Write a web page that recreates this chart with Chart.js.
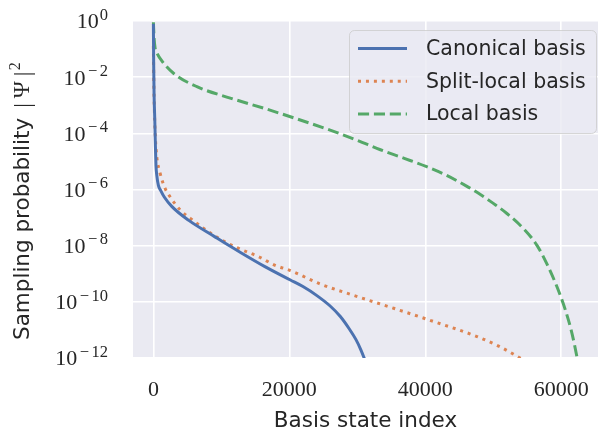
<!DOCTYPE html>
<html>
<head>
<meta charset="utf-8">
<script src="https://cdn.jsdelivr.net/npm/chart.js@4.4.1/dist/chart.umd.min.js"></script>
<style>
  html, body { margin: 0; padding: 0; background: #ffffff; }
  #wrap { width: 603px; height: 432px; }
</style>
</head>
<body>
<div id="wrap"><canvas id="c" width="603" height="432"></canvas></div>
<script>
// ---- data ----
const seriesNames = ["Canonical basis", "Split-local basis", "Local basis"];

const canonicalIndex = [0, 40, 100, 200, 280, 380, 500, 735, 1100, 1600, 2700, 5150, 9000, 11000, 13000, 16400, 20150, 22000, 24000, 26000, 27500, 28800, 29800, 30500, 31000, 31200];
const canonicalProb  = [7.9e-1, 3.2e-2, 2.5e-3, 3.2e-4, 5.0e-5, 7.1e-6, 3.2e-6, 1.4e-6, 8.9e-7, 5.4e-7, 2.5e-7, 8.1e-8, 2.1e-8, 1.05e-8, 5.4e-9, 1.8e-9, 6.0e-10, 3.5e-10, 1.7e-10, 7.1e-11, 3.0e-11, 1.1e-11, 4.5e-12, 2.0e-12, 1.0e-12, 7.1e-13];

const splitIndex = [0, 50, 150, 300, 490, 985, 1720, 2450, 3920, 5880, 8820, 12000, 15440, 17900, 20150, 24560, 29450, 35340, 40700, 47600, 51000, 54300];
const splitProb  = [1.3e-1, 1.0e-2, 6.3e-4, 6.3e-5, 1.5e-5, 3.8e-6, 1.1e-6, 5.5e-7, 1.9e-7, 7.8e-8, 2.4e-8, 9.1e-9, 4.1e-9, 2.0e-9, 1.3e-9, 4.3e-10, 1.7e-10, 5.9e-11, 2.2e-11, 5.8e-12, 2.5e-12, 8.9e-13];

const localIndex = [0, 100, 250, 540, 1270, 3000, 6400, 11300, 16200, 20150, 26000, 30000, 33400, 37000, 40200, 43000, 46000, 48100, 50000, 52000, 54460, 56400, 57900, 59350, 60600, 61570, 62300, 62450];
const localProb  = [9.0e-1, 2.5e-1, 1.1e-1, 7.1e-2, 3.7e-2, 1.35e-2, 4.6e-3, 1.8e-3, 7.9e-4, 3.9e-4, 1.3e-4, 5.6e-5, 2.6e-5, 1.26e-5, 6.5e-6, 3.3e-6, 1.35e-6, 6.6e-7, 3.2e-7, 1.4e-7, 4.0e-8, 1.05e-8, 2.2e-9, 3.5e-10, 5.1e-11, 7.6e-12, 1.1e-12, 7.1e-13];

const xTickValues = [0, 20000, 40000, 60000];
const xTickLabels = ["0", "20000", "40000", "60000"];
const yTickValues = [1e-12, 1e-10, 1e-8, 1e-6, 1e-4, 1e-2, 1e0];
const yTickBase = "10";
const yTickExponents = ["\u221212", "\u221210", "\u22128", "\u22126", "\u22124", "\u22122", "0"];

const xTitle = "Basis state index";
const yTitleWords = "Sampling probability";
const yTitleSymbol = "\u03A8";   // |Ψ|^2
const yTitlePower = "2";

// ---- styling ----
const colors = ["#4C72B0", "#DD8452", "#55A868"];
const LW = 3;
const dashes = [[], [LW, LW * 1.65], [LW * 3.7, LW * 1.6]];
const textColor = "#262626";
const sansFont = "'DejaVu Sans', 'Open Sans', sans-serif";
const serifFont = "'Liberation Serif', 'DejaVu Serif', serif";

function toPoints(xs, ys) { return xs.map((x, i) => ({ x: x, y: ys[i] })); }

const seriesData = [
  toPoints(canonicalIndex, canonicalProb),
  toPoints(splitIndex, splitProb),
  toPoints(localIndex, localProb)
];

const bgPlugin = {
  id: 'axesBg',
  beforeDraw(chart) {
    const { ctx, chartArea: a } = chart;
    ctx.save();
    ctx.fillStyle = '#EAEAF2';
    ctx.fillRect(a.left, a.top, a.right - a.left, a.bottom - a.top);
    ctx.restore();
  }
};

// y tick labels drawn as 10 with a raised exponent, positioned by the y scale
const yLabelPlugin = {
  id: 'yPowerLabels',
  afterDraw(chart) {
    const ctx = chart.ctx;
    const ys = chart.scales.y;
    const rightEdge = ys.right - 25;
    const baseFont = "22px " + serifFont;
    const expFont = "16.5px " + serifFont;
    ctx.save();
    ctx.fillStyle = textColor;
    ctx.textAlign = 'left';
    ctx.textBaseline = 'alphabetic';
    yTickValues.forEach((v, i) => {
      const py = ys.getPixelForValue(v);
      const ex = yTickExponents[i];
      const neg = ex.charAt(0) === '\u2212';
      const digits = neg ? ex.slice(1) : ex;
      ctx.font = expFont;
      const wMinus = neg ? ctx.measureText('\u2212').width + 4 : 0;
      const wDig = ctx.measureText(digits).width;
      ctx.font = baseFont;
      const wBase = ctx.measureText(yTickBase).width;
      const total = wBase + 1 + wMinus + wDig;
      const x0 = rightEdge - total;
      const baseY = py + 7.4;
      ctx.fillText(yTickBase, x0, baseY);
      ctx.font = expFont;
      let xe = x0 + wBase + 1;
      if (neg) { ctx.fillText('\u2212', xe + 1.5, baseY - 8.6); xe += wMinus; }
      ctx.fillText(digits, xe, baseY - 8.6);
    });

    // y axis title, rotated, with |Ψ|^2 set in a serif face
    const a = chart.chartArea;
    ctx.translate(29.3, 340);
    ctx.rotate(-Math.PI / 2);
    ctx.font = "21.5px " + sansFont;
    ctx.fillText(yTitleWords, 0, 0);
    let p = ctx.measureText(yTitleWords).width + 10;
    ctx.font = "23px " + serifFont;
    ctx.fillText("|", p, 0.5);
    p += ctx.measureText("|").width + 5;
    ctx.fillText(yTitleSymbol, p, 0);
    p += ctx.measureText(yTitleSymbol).width + 5;
    ctx.fillText("|", p, 0.5);
    p += ctx.measureText("|").width + 1.5;
    ctx.font = "16px " + serifFont;
    ctx.fillText(yTitlePower, p, -9.5);
    ctx.restore();
  }
};

const legendPlugin = {
  id: 'innerLegend',
  afterDraw(chart) {
    const ctx = chart.ctx;
    const x0 = 349.5, y0 = 30.5, w = 247, h = 103, r = 5;
    ctx.save();
    ctx.beginPath();
    ctx.moveTo(x0 + r, y0);
    ctx.arcTo(x0 + w, y0, x0 + w, y0 + h, r);
    ctx.arcTo(x0 + w, y0 + h, x0, y0 + h, r);
    ctx.arcTo(x0, y0 + h, x0, y0, r);
    ctx.arcTo(x0, y0, x0 + w, y0, r);
    ctx.closePath();
    ctx.fillStyle = 'rgba(234,234,242,0.8)';
    ctx.fill();
    ctx.strokeStyle = 'rgba(204,204,204,0.8)';
    ctx.lineWidth = 1;
    ctx.stroke();
    chart.data.datasets.forEach((ds, i) => {
      const yy = 48.5 + i * 32.8;
      ctx.beginPath();
      ctx.setLineDash(ds.borderDash || []);
      ctx.lineCap = 'butt';
      ctx.strokeStyle = ds.borderColor;
      ctx.lineWidth = ds.borderWidth;
      ctx.moveTo(358, yy);
      ctx.lineTo(407, yy);
      ctx.stroke();
      ctx.setLineDash([]);
      ctx.fillStyle = textColor;
      ctx.font = "20.5px " + sansFont;
      ctx.textBaseline = 'middle';
      ctx.textAlign = 'left';
      ctx.fillText(ds.label, 426, yy + 1);
    });
    ctx.restore();
  }
};

new Chart(document.getElementById('c'), {
  type: 'line',
  data: {
    datasets: seriesData.map((d, i) => ({
      label: seriesNames[i],
      data: d,
      borderColor: colors[i],
      backgroundColor: colors[i],
      borderWidth: LW,
      borderDash: dashes[i],
      borderCapStyle: 'butt',
      pointRadius: 0,
      fill: false,
      cubicInterpolationMode: 'monotone',
      clip: 0
    }))
  },
  options: {
    responsive: false,
    animation: false,
    devicePixelRatio: 1,
    layout: { padding: { top: 21, right: 5, left: 0, bottom: 0 } },
    plugins: { legend: { display: false }, tooltip: { enabled: false } },
    scales: {
      x: {
        type: 'linear',
        min: -3000,
        max: 65400,
        afterBuildTicks(scale) { scale.ticks = xTickValues.map(v => ({ value: v })); },
        afterFit(scale) { scale.height = 74; scale.paddingLeft = 0; scale.paddingRight = 0; },
        ticks: {
          callback(v) { const k = xTickValues.indexOf(v); return k >= 0 ? xTickLabels[k] : ''; },
          color: textColor,
          font: { family: serifFont, size: 22 },
          padding: 19,
          maxRotation: 0
        },
        grid: { color: '#ffffff', lineWidth: 1.6, drawTicks: false },
        border: { display: false },
        title: {
          display: true, text: xTitle, color: textColor,
          font: { family: sansFont, size: 21.5, lineHeight: 1.0 },
          padding: { top: 0, bottom: 0 }
        }
      },
      y: {
        type: 'logarithmic',
        min: 1e-12,
        max: 1,
        afterBuildTicks(scale) { scale.ticks = yTickValues.map(v => ({ value: v })); },
        afterFit(scale) { scale.width = 133; scale.paddingTop = 0; scale.paddingBottom = 0; },
        ticks: { display: false },
        grid: { color: '#ffffff', lineWidth: 1.6, drawTicks: false },
        border: { display: false },
        title: { display: false }
      }
    }
  },
  plugins: [bgPlugin, yLabelPlugin, legendPlugin]
});
</script>
</body>
</html>
